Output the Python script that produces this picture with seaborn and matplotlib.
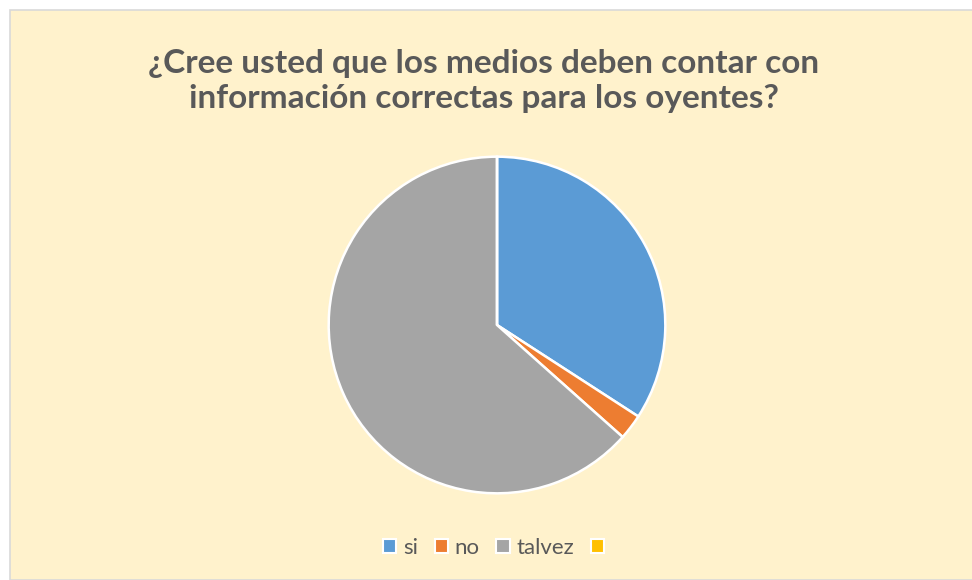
import numpy as np
import pandas as pd
import matplotlib
matplotlib.use("Agg")
import matplotlib.pyplot as plt
import seaborn as sns
from matplotlib.patches import Rectangle, Patch

# datos
categorias = ["si", "no", "talvez", ""]
respuestas = [14, 1, 26, 0]
colores = ["#5B9BD5", "#ED7D31", "#A5A5A5", "#FFC000"]
titulo = "¿Cree usted que los medios deben contar con\ninformación correctas para los oyentes?"

sns.set_theme(style="white")
plt.rcParams["font.family"] = ["Lato", "DejaVu Sans"]

df = pd.DataFrame({"categoria": categorias, "n": respuestas, "color": colores})

W, H = 972, 580
fig = plt.figure(figsize=(W / 100, H / 100), dpi=100)
fig.patch.set_facecolor("white")

# fondo del area del grafico
fig.patches.append(Rectangle((10 / W, 0), 1, 1 - 10 / H, transform=fig.transFigure,
                             facecolor="#FFF2CC", edgecolor="#D9D9D9", linewidth=1.2,
                             zorder=-10))

fig.text(484 / W, 1 - 81 / H, titulo, ha="center", va="center", fontsize=24,
         fontweight="bold", color="#595959", linespacing=1.25)

cx, cy, r = 497, 325, 170
ax = fig.add_axes([(cx - r) / W, (H - cy - r) / H, 2 * r / W, 2 * r / H])
ax.pie(df["n"], colors=df["color"], startangle=90, counterclock=False,
       wedgeprops=dict(edgecolor="white", linewidth=1.8))
ax.set_xlim(-1.01, 1.01)
ax.set_ylim(-1.01, 1.01)
ax.set_aspect("equal")
ax.set_axis_off()

handles = [Patch(facecolor=c, edgecolor="white", linewidth=1.5) for c in df["color"]]
fig.legend(handles, df["categoria"], loc="center", bbox_to_anchor=(497 / W, 1 - 548 / H),
           ncol=4, frameon=False, fontsize=16, handlelength=0.6, handleheight=0.6,
           handletextpad=0.3, columnspacing=0.75, labelcolor="#595959")

fig.savefig("out.png", dpi=100, facecolor=fig.get_facecolor())
